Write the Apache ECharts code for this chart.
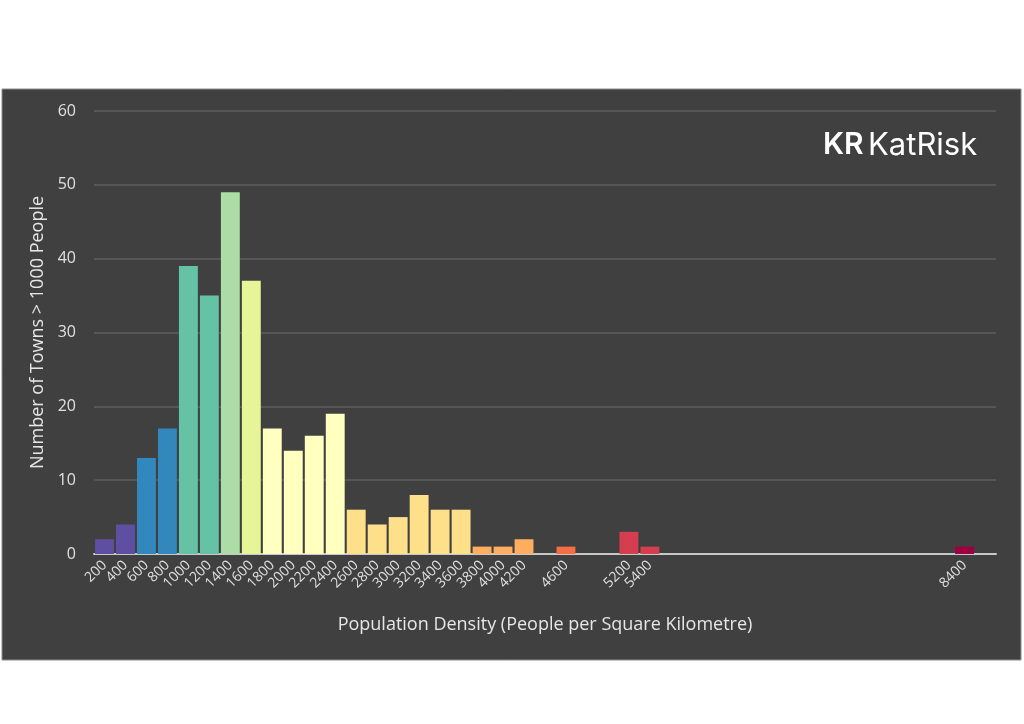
<!DOCTYPE html>
<html>
<head>
<meta charset="utf-8">
<title>Population density histogram</title>
<script src="https://cdn.jsdelivr.net/npm/echarts@6/dist/echarts.min.js"></script>
<style>
  html, body { margin: 0; padding: 0; background: #ffffff; }
  #chart { width: 1024px; height: 724px; }
</style>
</head>
<body>
<div id="chart"></div>
<script>
// bins of 200 people / km², 200 .. 8600
const densityBins = [
  200, 400, 600, 800, 1000, 1200, 1400, 1600, 1800, 2000, 2200, 2400, 2600, 2800,
  3000, 3200, 3400, 3600, 3800, 4000, 4200, 4400, 4600, 4800, 5000, 5200, 5400, 5600,
  5800, 6000, 6200, 6400, 6600, 6800, 7000, 7200, 7400, 7600, 7800, 8000, 8200, 8400, 8600
];
const townCounts = [
  2, 4, 13, 17, 39, 35, 49, 37, 17, 14, 16, 19, 6, 4,
  5, 8, 6, 6, 1, 1, 2, 0, 1, 0, 0, 3, 1, 0,
  0, 0, 0, 0, 0, 0, 0, 0, 0, 0, 0, 0, 0, 1, 0
];
const barColors = [
  "#5e4fa2", "#5e4fa2", "#3288bd", "#3288bd", "#66c2a5", "#66c2a5", "#abdda4", "#e6f598",
  "#ffffbf", "#ffffbf", "#ffffbf", "#ffffbf", "#fee08b", "#fee08b", "#fee08b", "#fee08b",
  "#fee08b", "#fee08b", "#fdae61", "#fdae61", "#fdae61", "#f46d43", "#f46d43", "#f46d43",
  "#d53e4f", "#d53e4f", "#d53e4f", "#d53e4f", "#d53e4f", "#d53e4f", "#d53e4f", "#d53e4f",
  "#d53e4f", "#d53e4f", "#d53e4f", "#d53e4f", "#d53e4f", "#d53e4f", "#d53e4f", "#d53e4f",
  "#9e0142", "#9e0142", "#9e0142"
];
const yTicks = [0, 10, 20, 30, 40, 50, 60];

const chart = echarts.init(document.getElementById("chart"), null, { renderer: "canvas" });

chart.setOption({
  animation: false,
  backgroundColor: "#ffffff",
  textStyle: { fontFamily: "Open Sans, Noto Sans, sans-serif" },
  graphic: [
    {
      type: "rect",
      z: -10,
      shape: { x: 2, y: 89, width: 1019, height: 571 },
      style: { fill: "#404040", stroke: "#8c8c8c", lineWidth: 1 }
    },
    {
      type: "text",
      left: 823,
      top: 130,
      style: { text: "KR", fill: "#ffffff", font: "600 30px Inter, sans-serif" }
    },
    {
      type: "text",
      left: 868,
      top: 130,
      style: { text: "KatRisk", fill: "#ffffff", font: "400 31px Inter, sans-serif" }
    }
  ],
  grid: { left: 94, right: 28, top: 111, bottom: 170, containLabel: false },
  xAxis: {
    type: "category",
    data: densityBins.map(String),
    name: "Population Density (People per Square Kilometre)",
    nameLocation: "middle",
    nameGap: 62,
    nameTextStyle: { color: "#e6e6e6", fontSize: 18 },
    axisLine: { lineStyle: { color: "#c8c8c8", width: 2 } },
    axisTick: { show: false },
    axisLabel: {
      interval: 0,
      rotate: 45,
      color: "#e0e0e0",
      fontSize: 14,
      margin: 9,
      formatter: (v, i) => (townCounts[i] > 0 ? v : "")
    }
  },
  yAxis: {
    type: "value",
    min: yTicks[0],
    max: yTicks[yTicks.length - 1],
    interval: 10,
    name: "Number of Towns > 1000 People",
    nameLocation: "middle",
    nameGap: 46,
    nameTextStyle: { color: "#e6e6e6", fontSize: 18 },
    axisLine: { show: false },
    axisTick: { show: false },
    axisLabel: { color: "#e0e0e0", fontSize: 16, margin: 18 },
    splitLine: { lineStyle: { color: "#5e5e5e", width: 1.5 } }
  },
  series: [
    {
      type: "bar",
      barCategoryGap: "10%",
      data: townCounts.map((v, i) => ({ value: v, itemStyle: { color: barColors[i] } }))
    }
  ]
});
</script>
</body>
</html>
